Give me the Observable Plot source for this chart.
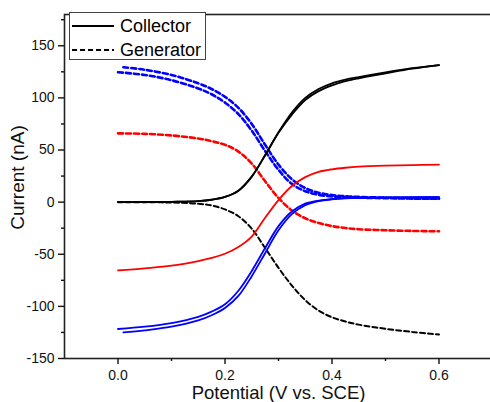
<!DOCTYPE html>
<html>
<head>
<meta charset="utf-8">
<script src="https://cdn.jsdelivr.net/npm/d3@7"></script>
<script src="https://cdn.jsdelivr.net/npm/@observablehq/plot@0.6"></script>
<style>
  html, body { margin: 0; padding: 0; background: #fff; }
  #wrap { position: relative; width: 490px; height: 402px; overflow: hidden; font-family: "Liberation Sans", Arial, sans-serif; }
  #legend { position: absolute; left: 69px; top: 12px; width: 137px; height: 48px; border: 1px solid #444; background: #fff; box-sizing: border-box; }
  .row { position: absolute; left: 2px; height: 22px; display: flex; align-items: center; font-size: 18px; color: #000; }
  .row svg { margin-right: 6px; }
</style>
</head>
<body>
<div id="wrap"></div>
<script>
// ---- data ----
const potential     = [0, 0.05, 0.1, 0.15, 0.175, 0.2, 0.225, 0.25, 0.275, 0.3, 0.325, 0.35, 0.375, 0.4, 0.425, 0.45, 0.5, 0.55, 0.6];
const potentialLate = [0.01, 0.05, 0.1, 0.15, 0.175, 0.2, 0.225, 0.25, 0.275, 0.3, 0.325, 0.35, 0.375, 0.4, 0.425, 0.45, 0.5, 0.55, 0.6];

const blackCollectorA = [0, 0, 0.3, 1, 2.3, 5, 11, 24.5, 45, 67, 86, 100, 108.5, 114, 117.5, 120, 124.5, 128.5, 131.5];
const blackCollectorB = [0, 0, 0.3, 1, 2.3, 5, 11, 24.5, 45, 66.5, 84, 98, 106.5, 112, 116, 118.8, 123.5, 128, 131.5];
const blackGenerator  = [0, -0.1, -0.4, -1.5, -3.2, -7, -13.5, -25.5, -44, -63, -80, -94, -104, -110.5, -114.5, -117.5, -121.5, -124.5, -127];

const redCollector = [-65.5, -63.5, -61, -56.5, -53.5, -49.5, -43, -33, -15, 2, 15.5, 24, 29, 31.5, 33, 34, 35, 35.6, 36];
const redGenerator = [66, 65.5, 64, 61, 58.5, 55, 48.5, 37, 20, 4, -8, -15.5, -20, -23, -24.8, -26, -27, -27.6, -28];

const blueCollectorA = [-121.7, -119.5, -116, -110, -105, -98, -85, -66, -44, -23, -9, -1.5, 1.5, 3, 3.8, 4.2, 4.5, 4.7, 4.9];
const blueCollectorB = [-125, -123, -119.5, -113.5, -108.5, -101.5, -90, -71, -49, -27, -11.5, -3, 1, 2.7, 3.6, 4.1, 4.4, 4.6, 4.8];
const blueGeneratorA = [129.4, 127, 122, 114, 108.5, 101, 90.5, 75, 55, 36, 22, 13.5, 9, 6.8, 5.6, 5, 4.3, 3.8, 3.5];
const blueGeneratorB = [124.6, 122, 117, 109, 103.5, 95.5, 84.5, 68.5, 49, 31, 17.5, 10.5, 7, 5.5, 4.8, 4.3, 3.8, 3.4, 3.2];

const xMajorTicks = [0, 0.2, 0.4, 0.6];
const xMinorTicks = [0.1, 0.3, 0.5];
const yMajorTicks = [-150, -100, -50, 0, 50, 100, 150];
const yMinorTicks = [-125, -75, -25, 25, 75, 125, 175];

const legendLabels = ["Collector", "Generator"];
const xLabel = "Potential (V vs. SCE)";
const yLabel = "Current (nA)";

// ---- build rows ----
function rows(id, xs, ys, color, kind) {
  return ys.map((y, i) => ({id, v: xs[i], i: y, color, kind}));
}
const all = [
  ...rows("bcA", potential, blackCollectorA, "#000000", "solid"),
  ...rows("bcB", potential, blackCollectorB, "#000000", "solid"),
  ...rows("rc", potential, redCollector, "#ff0000", "solid"),
  ...rows("ucA", potential, blueCollectorA, "#0000ff", "solid"),
  ...rows("ucB", potentialLate, blueCollectorB, "#0000ff", "solid"),
  ...rows("bg", potential, blackGenerator, "#000000", "dashThin"),
  ...rows("rg", potential, redGenerator, "#ff0000", "dashThick"),
  ...rows("ugA", potentialLate, blueGeneratorA, "#0000ff", "dashThick"),
  ...rows("ugB", potential, blueGeneratorB, "#0000ff", "dashThick")
];
const solid = all.filter(d => d.kind === "solid");
const dashThin = all.filter(d => d.kind === "dashThin");
const dashThick = all.filter(d => d.kind === "dashThick");

const chart = Plot.plot({
  width: 490,
  height: 402,
  marginLeft: 64,
  marginRight: -2,
  marginTop: 14,
  marginBottom: 44,
  x: {domain: [-0.1, 0.7]},
  y: {domain: [-150, 180]},
  color: {type: "identity"},
  style: {fontFamily: "'Liberation Sans', Arial, sans-serif", fontSize: "14px", color: "#111", background: "#fff"},
  marks: [
    Plot.line(dashThin, {x: "v", y: "i", z: "id", stroke: "color", strokeWidth: 2, strokeDasharray: "5,3", curve: "catmull-rom"}),
    Plot.line(dashThick, {x: "v", y: "i", z: "id", stroke: "color", strokeWidth: 2.6, strokeDasharray: "5,3", curve: "catmull-rom"}),
    Plot.line(solid, {x: "v", y: "i", z: "id", stroke: "color", strokeWidth: 1.8, curve: "catmull-rom"}),
    Plot.frame({stroke: "#222", strokeWidth: 1.6}),
    Plot.axisX({ticks: xMajorTicks, tickSize: 6, tickPadding: 6, tickFormat: d => d.toFixed(1), label: null, strokeWidth: 1.4}),
    Plot.axisX({ticks: xMinorTicks, tickSize: 3, tickFormat: () => "", label: null, strokeWidth: 1.4}),
    Plot.axisY({ticks: yMajorTicks, tickSize: 6, tickPadding: 4, tickFormat: d => String(d), label: null, strokeWidth: 1.4}),
    Plot.axisY({ticks: yMinorTicks, tickSize: 3, tickFormat: () => "", label: null, strokeWidth: 1.4}),
    Plot.text([xLabel], {frameAnchor: "bottom", dy: 34.5, fontSize: 18.5, textAnchor: "middle", lineAnchor: "middle", fill: "#111"}),
    Plot.text([yLabel], {frameAnchor: "left", dx: -47, dy: -9, rotate: -90, fontSize: 19, textAnchor: "middle", lineAnchor: "middle", fill: "#111"})
  ]
});

const wrap = document.getElementById("wrap");
wrap.appendChild(chart);

// legend overlay
const legend = document.createElement("div");
legend.id = "legend";
legendLabels.forEach((lab, k) => {
  const row = document.createElement("div");
  row.className = "row";
  row.style.top = (k === 0 ? 2 : 26) + "px";
  const dash = k === 0 ? "" : 'stroke-dasharray="5,3"';
  row.innerHTML = `<svg width="42" height="10"><line x1="0" x2="42" y1="5" y2="5" stroke="#000" stroke-width="1.8" ${dash}/></svg><span>${lab}</span>`;
  legend.appendChild(row);
});
wrap.appendChild(legend);
</script>
</body>
</html>
